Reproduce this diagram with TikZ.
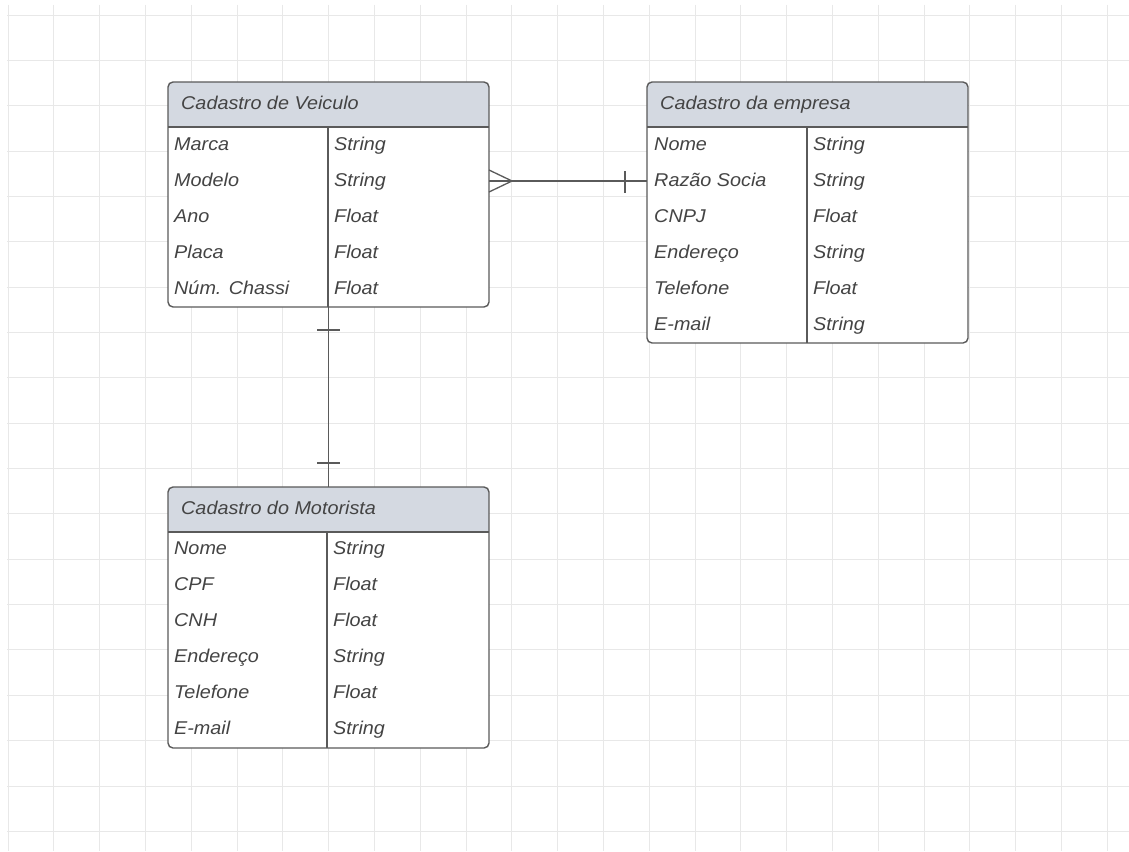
\documentclass[tikz,border=0pt]{standalone}
\usepackage{fontspec}
\setmainfont{Liberation Sans}[FakeStretch=1.07]
\definecolor{gridgray}{HTML}{E8E8E8}
\definecolor{headfill}{HTML}{D4D9E1}
\definecolor{framegray}{HTML}{5A5A5A}
\definecolor{textgray}{HTML}{444444}
\begin{document}
\begin{tikzpicture}[x=1pt,y=-1pt,
  gridline/.style={draw=gridgray, line width=0.9pt},
  tablebox/.style={fill=white, inner sep=0pt, outer sep=0pt, anchor=north west},
  frame/.style={draw=framegray, line width=1.4pt, rounded corners=5pt},
  rule/.style={draw=framegray, line width=1.2pt},
  conn/.style={draw=framegray, line width=1.3pt},
  title/.style={anchor=base west, inner sep=0pt, text=textgray,
    font=\fontsize{18.5}{22}\selectfont\itshape},
  cell/.style={anchor=base west, inner sep=0pt, text=textgray,
    font=\fontsize{18.5}{22}\selectfont\itshape}
]
\useasboundingbox (0,0) rectangle (1129,851);
\fill[white] (0,0) rectangle (1129,851);

% background grid
\foreach \k in {0,...,24}
  \draw[gridline] ({8+45.8*\k},5) -- ({8+45.8*\k},851);
\foreach \k in {0,...,18}
  \draw[gridline] (7,{15+45.35*\k}) -- (1129,{15+45.35*\k});

% ---------- Cadastro de Veiculo ----------
\node[tablebox, minimum width=321pt, minimum height=225pt] (veic) at (168,82) {};
\begin{scope}
  \clip[rounded corners=5pt] (veic.north west) rectangle (veic.south east);
  \fill[headfill] (veic.north west) rectangle (veic.east |- 0,127);
\end{scope}
\draw[rule] (veic.west |- 0,127) -- (veic.east |- 0,127);
\draw[rule] (328,127) -- (328,0 |- veic.south);
\draw[frame] (veic.north west) rectangle (veic.south east);
\node[title] (veic-title) at (181,109) {Cadastro de Veiculo};
\foreach \i/\a/\b in {1/Marca/String, 2/Modelo/String, 3/Ano/Float,
                      4/Placa/Float, 5/{Núm. Chassi}/Float} {
  \node[cell] (veic-a\i) at (174,{150+36*(\i-1)}) {\a};
  \node[cell] (veic-b\i) at (334,{150+36*(\i-1)}) {\b};
}

% ---------- Cadastro da empresa ----------
\node[tablebox, minimum width=321pt, minimum height=261pt] (emp) at (647,82) {};
\begin{scope}
  \clip[rounded corners=5pt] (emp.north west) rectangle (emp.south east);
  \fill[headfill] (emp.north west) rectangle (emp.east |- 0,127);
\end{scope}
\draw[rule] (emp.west |- 0,127) -- (emp.east |- 0,127);
\draw[rule] (807,127) -- (807,0 |- emp.south);
\draw[frame] (emp.north west) rectangle (emp.south east);
\node[title] (emp-title) at (660,109) {Cadastro da empresa};
\foreach \i/\a/\b in {1/Nome/String, 2/{Razão Socia}/String, 3/CNPJ/Float,
                      4/Endereço/String, 5/Telefone/Float, 6/E-mail/String} {
  \node[cell] (emp-a\i) at (654,{150+36*(\i-1)}) {\a};
  \node[cell] (emp-b\i) at (813,{150+36*(\i-1)}) {\b};
}

% ---------- Cadastro do Motorista ----------
\node[tablebox, minimum width=321pt, minimum height=261pt] (moto) at (168,487) {};
\begin{scope}
  \clip[rounded corners=5pt] (moto.north west) rectangle (moto.south east);
  \fill[headfill] (moto.north west) rectangle (moto.east |- 0,532);
\end{scope}
\draw[rule] (moto.west |- 0,532) -- (moto.east |- 0,532);
\draw[rule] (327,532) -- (327,0 |- moto.south);
\draw[frame] (moto.north west) rectangle (moto.south east);
\node[title] (moto-title) at (181,514) {Cadastro do Motorista};
\foreach \i/\a/\b in {1/Nome/String, 2/CPF/Float, 3/CNH/Float,
                      4/Endereço/String, 5/Telefone/Float, 6/E-mail/String} {
  \node[cell] (moto-a\i) at (174,{554+36*(\i-1)}) {\a};
  \node[cell] (moto-b\i) at (333,{554+36*(\i-1)}) {\b};
}

% ---------- relationships ----------
% Veiculo (one) -- Motorista (one)
\draw[conn] (veic.south) -- (moto.north);
\draw[conn] (317,330) -- (340,330);
\draw[conn] (317,463) -- (340,463);

% Veiculo (many) -- empresa (one)
\coordinate (crow) at (512,181);
\draw[conn] (veic.east |- 0,181) -- (emp.west |- 0,181);
\draw[conn] (veic.east |- 0,170) -- (crow) -- (veic.east |- 0,192);
\draw[conn] (625,171) -- (625,193);
\end{tikzpicture}
\end{document}
